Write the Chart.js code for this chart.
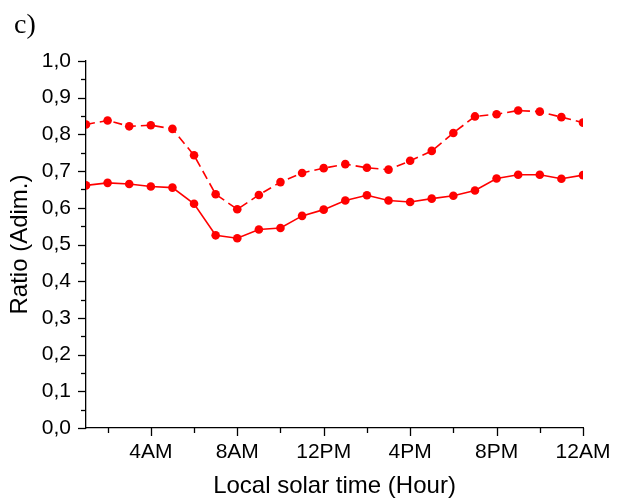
<!DOCTYPE html>
<html>
<head>
<meta charset="utf-8">
<script src="https://cdn.jsdelivr.net/npm/chart.js@4/dist/chart.umd.min.js"></script>
<style>
    html, body { margin: 0; padding: 0; background: #fff; }
    canvas { display: block; }
</style>
</head>
<body>
<canvas id="ratioChart" width="617" height="502"></canvas>
<script>
// hourly values, local solar time 1..24
const hours = [1, 2, 3, 4, 5, 6, 7, 8, 9, 10, 11, 12, 13, 14, 15, 16, 17, 18, 19, 20, 21, 22, 23, 24];
const dashedRatio = [0.827, 0.838, 0.822, 0.825, 0.815, 0.743, 0.637, 0.596, 0.635, 0.670, 0.695, 0.708,
    0.719, 0.709, 0.704, 0.728, 0.755, 0.804, 0.849, 0.855, 0.865, 0.862, 0.847, 0.832];
const solidRatio = [0.661, 0.668, 0.665, 0.658, 0.655, 0.611, 0.525, 0.517, 0.541, 0.545, 0.578, 0.595,
    0.620, 0.634, 0.620, 0.616, 0.625, 0.633, 0.647, 0.680, 0.690, 0.690, 0.679, 0.689];

const xTickHours = [4, 8, 12, 16, 20, 24];
const xTickText = ['4AM', '8AM', '12PM', '4PM', '8PM', '12AM'];

const FONT = "'Liberation Sans', Arial, sans-serif";

function toPoints(values) {
    return values.map((v, i) => ({ x: hours[i], y: v }));
}

// draws outward tick marks, longer on labelled ticks
const axisTicks = {
    id: 'axisTicks',
    afterDraw(chart) {
        const ctx = chart.ctx;
        const area = chart.chartArea;
        ctx.save();
        ctx.strokeStyle = '#000';
        ctx.lineWidth = 1.3;
        chart.scales.x.ticks.forEach(t => {
            const px = Math.round(chart.scales.x.getPixelForValue(t.value)) + 0.5;
            const len = t.label ? 8 : 5;
            ctx.beginPath();
            ctx.moveTo(px, area.bottom);
            ctx.lineTo(px, area.bottom + len);
            ctx.stroke();
        });
        chart.scales.y.ticks.forEach(t => {
            const py = Math.round(chart.scales.y.getPixelForValue(t.value)) + 0.5;
            const len = t.label ? 8 : 5;
            ctx.beginPath();
            ctx.moveTo(area.left, py);
            ctx.lineTo(area.left - len, py);
            ctx.stroke();
        });
        // panel letter
        ctx.fillStyle = '#000';
        ctx.font = "28px 'Liberation Serif', 'Times New Roman', serif";
        ctx.textBaseline = 'alphabetic';
        ctx.fillText('c)', 14, 33);
        ctx.restore();
    }
};

new Chart(document.getElementById('ratioChart'), {
    type: 'line',
    data: {
        datasets: [
            {
                label: 'dashed',
                data: toPoints(dashedRatio),
                borderColor: '#ff0000',
                backgroundColor: '#ff0000',
                borderWidth: 1.6,
                borderDash: [9, 5],
                pointRadius: 4.3,
                pointBorderWidth: 0,
                tension: 0,
                clip: 0
            },
            {
                label: 'solid',
                data: toPoints(solidRatio),
                borderColor: '#ff0000',
                backgroundColor: '#ff0000',
                borderWidth: 1.6,
                pointRadius: 4.3,
                pointBorderWidth: 0,
                tension: 0,
                clip: 0
            }
        ]
    },
    options: {
        responsive: false,
        animation: false,
        devicePixelRatio: 1,
        layout: { padding: { top: 61, right: 34, bottom: 0, left: 0 } },
        plugins: {
            legend: { display: false },
            tooltip: { enabled: false }
        },
        scales: {
            x: {
                type: 'linear',
                min: 1,
                max: 24,
                afterBuildTicks(scale) {
                    const ticks = [];
                    for (let h = 2; h <= 24; h += 2) ticks.push({ value: h });
                    scale.ticks = ticks;
                },
                afterFit(scale) { scale.height = 74; },
                grid: { drawOnChartArea: false, tickLength: 8, tickColor: 'rgba(0,0,0,0)' },
                border: { display: true, color: '#000', width: 1.3 },
                ticks: {
                    autoSkip: false,
                    maxRotation: 0,
                    padding: 4,
                    color: '#000',
                    font: { family: FONT, size: 21 },
                    callback(value) {
                        const i = xTickHours.indexOf(value);
                        return i >= 0 ? xTickText[i] : '';
                    }
                },
                title: {
                    display: true,
                    text: 'Local solar time (Hour)',
                    color: '#000',
                    font: { family: FONT, size: 24 },
                    padding: { top: 0, bottom: 1 }
                }
            },
            y: {
                min: 0,
                max: 1,
                afterBuildTicks(scale) {
                    const ticks = [];
                    for (let k = 0; k <= 20; k++) ticks.push({ value: k / 20 });
                    scale.ticks = ticks;
                },
                afterFit(scale) { scale.width = 86; },
                grid: { drawOnChartArea: false, tickLength: 8, tickColor: 'rgba(0,0,0,0)' },
                border: { display: true, color: '#000', width: 1.3 },
                ticks: {
                    autoSkip: false,
                    padding: 7,
                    color: '#000',
                    font: { family: FONT, size: 21 },
                    callback(value) {
                        const k = Math.round(value * 20);
                        return k % 2 === 0 ? (k / 20).toFixed(1).replace('.', ',') : '';
                    }
                },
                title: {
                    display: true,
                    text: 'Ratio (Adim.)',
                    color: '#000',
                    font: { family: FONT, size: 24 },
                    padding: { top: 6, bottom: 0 }
                }
            }
        }
    },
    plugins: [axisTicks]
});
</script>
</body>
</html>
